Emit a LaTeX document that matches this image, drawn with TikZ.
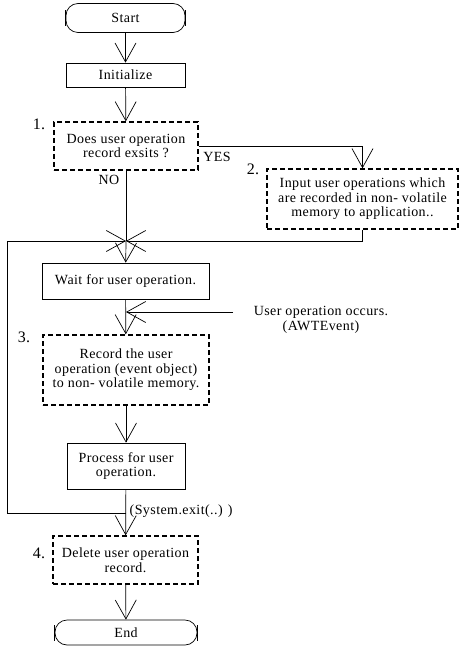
\documentclass[tikz,border=0pt]{standalone}
\usepackage{fontspec}
\setmainfont{Liberation Serif}[LetterSpace=3]
\usetikzlibrary{arrows.meta}

\tikzset{
  box/.style={draw, line width=0.7pt, align=center, inner sep=0pt},
  dbox/.style={box, line width=1.4pt, dash pattern=on 5pt off 3pt},
  terminal/.style={box, rounded corners=12pt},
  arr/.style={-{Straight Barb[length=19pt,width=21pt]}},
  num/.style={font=\fontsize{16}{16}\selectfont},
}

\begin{document}
\begin{tikzpicture}[x=1pt, y=-1pt, line width=0.7pt, font=\fontsize{14}{14.5}\selectfont]
\useasboundingbox (0,0) rectangle (460,647);

% terminals and boxes
\node [terminal, minimum width=119pt, minimum height=29pt] (start) at (125.5,18) {Start};
\node [box, minimum width=119pt, minimum height=24pt] (init) at (125.5,75) {Initialize};
\node [dbox, minimum width=144pt, minimum height=48pt] (exist) at (126,146) {Does user operation\\record exsits ?};
\node [dbox, minimum width=191pt, minimum height=60pt] (input) at (362.5,199) {Input user operations which\\are recorded in non- volatile\\memory to application..};
\node [box, minimum width=167pt, minimum height=36pt] (wait) at (125.5,281) {Wait for user operation.};
\node [dbox, minimum width=166pt, minimum height=70pt] (record) at (126,370) {Record the user\\operation (event object)\\to non- volatile memory.};
\node [box, minimum width=118pt, minimum height=46pt] (proc) at (126,466) {Process for user\\operation.};
\node [dbox, minimum width=145pt, minimum height=48pt] (del) at (125.5,560) {Delete user operation\\record.};
\node [terminal, minimum width=142pt, minimum height=25pt] (finish) at (126,632.5) {End};

% end bars of the terminals
\foreach \n in {start,finish} {
  \draw ([yshift=-8pt]\n.west) -- ([yshift=8pt]\n.west);
  \draw ([yshift=-8pt]\n.east) -- ([yshift=8pt]\n.east);
}

% step numbers
\node [num] (n1) at (39,124) {1.};
\node [num] (n2) at (253,169) {2.};
\node [num] (n3) at (24,337) {3.};
\node [num] (n4) at (39,553) {4.};

% free points
\coordinate (merge) at (126,241);
\coordinate (evtsrc) at (233,312);
\coordinate (evtin) at (126,312);
\coordinate (exitpt) at (126,513);

% connectors
\draw [arr] (start) -- (init);
\draw [arr] (init) -- (exist);
\draw [arr] (exist) -| (input);
\draw (exist) -- (merge);
\draw [arr] (input) |- (merge);
\draw [arr] (merge) -- (wait);
\draw [arr] (wait) -- (record);
\draw [arr] (evtsrc) -- (evtin);
\draw [arr] (record) -- (proc);
\draw [arr] (proc) -- (del);
\draw [arr] (exitpt) -- ++(-119,0) |- (merge);
\draw [arr] (del) -- (finish);

% labels
\node (yes) at (217,157) {YES};
\node (no) at (109,180) {NO};
\node [align=center] (evt) at (321,320) {User operation occurs.\\(AWTEvent)};
\node [anchor=west] (sysexit) at (126,511) {(System.exit(..) )};

\end{tikzpicture}
\end{document}
